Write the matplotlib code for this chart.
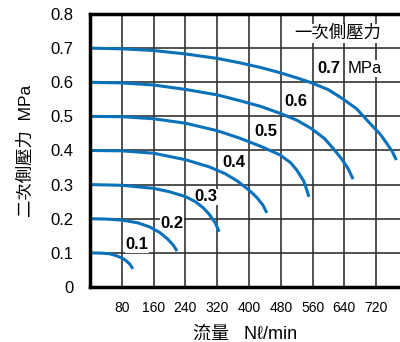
import matplotlib.pyplot as plt

plt.rcParams['font.family'] = ['Liberation Sans', 'Noto Sans CJK TC', 'DejaVu Sans']

# Расход (Nl/min) и вторичное давление (MPa) для каждой кривой
flow_01 = [0, 30, 50, 65, 80, 90, 100, 108]
pres_01 = [0.100, 0.099, 0.097, 0.092, 0.085, 0.078, 0.067, 0.053]
flow_02 = [0, 40, 80, 120, 150, 175, 195, 210, 219]
pres_02 = [0.200, 0.199, 0.196, 0.188, 0.176, 0.160, 0.141, 0.122, 0.105]
flow_03 = [0, 80, 160, 200, 240, 265, 285, 300, 315, 325]
pres_03 = [0.300, 0.298, 0.289, 0.279, 0.265, 0.250, 0.232, 0.213, 0.188, 0.162]
flow_04 = [0, 80, 160, 240, 300, 340, 370, 400, 420, 435, 445]
pres_04 = [0.400, 0.399, 0.392, 0.373, 0.352, 0.332, 0.311, 0.284, 0.262, 0.240, 0.217]
flow_05 = [0, 80, 160, 240, 320, 377, 430, 478, 505, 520, 538, 551]
pres_05 = [0.500, 0.499, 0.493, 0.480, 0.458, 0.436, 0.412, 0.387, 0.364, 0.343, 0.310, 0.264]
flow_06 = [0, 80, 160, 240, 320, 377, 430, 478, 520, 556, 590, 611, 630, 648, 662]
pres_06 = [0.600, 0.598, 0.592, 0.579, 0.563, 0.546, 0.529, 0.509, 0.489, 0.465, 0.435, 0.407, 0.380, 0.350, 0.316]
flow_07 = [0, 80, 160, 240, 320, 377, 430, 478, 520, 556, 600, 634, 670, 712, 730, 746, 760, 771]
pres_07 = [0.700, 0.698, 0.693, 0.683, 0.670, 0.657, 0.643, 0.628, 0.613, 0.599, 0.578, 0.553, 0.523, 0.470, 0.448, 0.422, 0.398, 0.372]

curves = [(flow_01, pres_01), (flow_02, pres_02), (flow_03, pres_03), (flow_04, pres_04),
          (flow_05, pres_05), (flow_06, pres_06), (flow_07, pres_07)]

# Подписи первичного давления
primary_labels = ["0.1", "0.2", "0.3", "0.4", "0.5", "0.6", "0.7"]
label_x = [118, 207, 291, 363, 442, 518, 571]
label_y = [0.123, 0.185, 0.264, 0.366, 0.457, 0.545, 0.640]

x_ticks = [80, 160, 240, 320, 400, 480, 560, 640, 720]
y_ticks = [0, 0.1, 0.2, 0.3, 0.4, 0.5, 0.6, 0.7, 0.8]
y_tick_labels = ["0", "0.1", "0.2", "0.3", "0.4", "0.5", "0.6", "0.7", "0.8"]

BLUE = "#0A72BA"

fig = plt.figure(figsize=(4.0, 3.42), dpi=100)
ax = fig.add_axes([0.225, 0.161, 0.775, 0.798])

for flow, pres in curves:
    ax.plot(flow, pres, color=BLUE, lw=2.2, solid_capstyle='butt', zorder=3)

ax.set_xlim(0, 780)
ax.set_ylim(0, 0.8)
ax.set_xticks(x_ticks)
ax.set_yticks(y_ticks)
ax.set_yticklabels(y_tick_labels)
ax.tick_params(axis='y', length=0, pad=12, labelsize=12)
ax.tick_params(axis='x', length=0, pad=10, labelsize=10)
ax.grid(True, color='#333333', lw=1.2)
ax.set_axisbelow(True)

for side in ['left', 'top', 'bottom']:
    ax.spines[side].set_linewidth(2.5)
    ax.spines[side].set_zorder(4)
ax.spines['right'].set_visible(False)

box = dict(facecolor='white', edgecolor='none', pad=0.5)
for text, x, y in zip(primary_labels, label_x, label_y):
    ax.text(x, y, text, fontsize=12, fontweight='bold', ha='left' if text == "0.7" else 'center',
            va='center', bbox=box, zorder=2)
ax.text(649, 0.640, "MPa", fontsize=12, ha='left', va='center', bbox=box, zorder=2)
ax.text(624, 0.744, "一次側壓力", fontsize=12.5, fontweight='light', ha='center', va='center',
        bbox=dict(facecolor='white', edgecolor='none', pad=1), zorder=2)

ax.set_ylabel("二次側壓力  MPa", fontsize=12.5, fontweight='light', labelpad=12)
ax.set_xlabel("流量   Nℓ/min", fontsize=13, fontweight='light', labelpad=8)

fig.savefig("out.png", dpi=100)
